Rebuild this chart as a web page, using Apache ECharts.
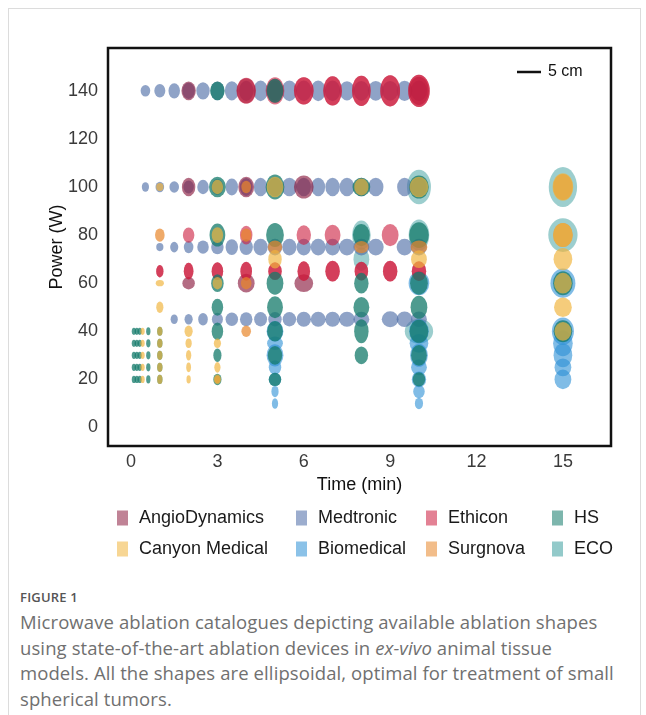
<!DOCTYPE html>
<html>
<head>
<meta charset="utf-8">
<script src="https://cdn.jsdelivr.net/npm/echarts@6/dist/echarts.min.js"></script>
<style>
  html, body { margin: 0; padding: 0; background: #fff; }
  .card { position: absolute; left: 8px; top: 8px; width: 631px; height: 720px; border: 1px solid #dcdcdc; border-bottom: none; }
  #chart { position: absolute; left: 0; top: 0; width: 646px; height: 580px; }
  .caption { position: absolute; left: 20px; top: 588px; font-family: "Open Sans", sans-serif; color: #707070; }
  .fig { font-size: 13px; font-weight: 600; color: #555; letter-spacing: 0.2px; margin-bottom: 3px; }
  .text { font-size: 18.5px; line-height: 25.5px; letter-spacing: 0.1px; white-space: nowrap; margin-top: 3px; }
</style>
</head>
<body>
<div class="card"></div>
<div id="chart"></div>
<div class="caption">
  <div class="fig">FIGURE 1</div>
  <div class="text">Microwave ablation catalogues depicting available ablation shapes<br>using state-of-the-art ablation devices in <i>ex-vivo</i> animal tissue<br>models. All the shapes are ellipsoidal, optimal for treatment of small<br>spherical tumors.</div>
</div>
<script>
// each point: [time (min), power (W), ablation width (cm), ablation length (cm)]
var xTicks = [0, 3, 6, 9, 12, 15]
var yTicks = [0, 20, 40, 60, 80, 100, 120, 140]

var angioDynamics = [
  [2, 140, 3.0, 3.9], [4, 140, 3.9, 5.2], [5, 140, 3.5, 5.0], [10, 140, 4.1, 5.9],
  [2, 100, 2.8, 3.9], [4, 100, 3.3, 4.3], [6, 100, 4.1, 4.8],
  [2, 60, 2.6, 2.6], [4, 60, 3.5, 3.9], [6, 60, 3.9, 3.7]
]

var medtronic = [
  [0.5, 140, 2.0, 2.4], [1, 140, 2.3, 2.8], [1.5, 140, 2.4, 3.2], [2, 140, 2.6, 3.4], [2.5, 140, 2.8, 3.6],
  [3, 140, 2.9, 3.9], [3.5, 140, 2.9, 4.0], [4, 140, 3.0, 4.2], [4.5, 140, 3.0, 4.3], [5, 140, 3.1, 4.3],
  [5.5, 140, 3.2, 4.3], [6, 140, 3.2, 4.3], [6.5, 140, 3.1, 4.3], [7, 140, 3.2, 4.3], [7.5, 140, 3.2, 4.0],
  [8, 140, 3.2, 4.1], [8.5, 140, 3.3, 4.1], [9, 140, 3.3, 4.1], [9.5, 140, 3.3, 4.2], [10, 140, 3.4, 4.3],
  [0.5, 100, 1.5, 2.0], [1, 100, 1.8, 2.2], [1.5, 100, 2.0, 2.4], [2, 100, 2.2, 2.7], [2.5, 100, 2.4, 3.0],
  [3, 100, 2.5, 3.3], [3.5, 100, 2.6, 3.5], [4, 100, 2.7, 3.7], [4.5, 100, 2.8, 3.9], [5, 100, 3.0, 3.9],
  [5.5, 100, 3.2, 3.9], [6, 100, 3.0, 3.9], [6.5, 100, 2.9, 3.9], [7, 100, 3.0, 3.9], [7.5, 100, 3.1, 3.9],
  [8, 100, 3.1, 3.9], [8.5, 100, 3.2, 3.9], [9.5, 100, 3.1, 3.9], [10, 100, 3.2, 3.9],
  [1, 75, 1.5, 1.7], [1.5, 75, 1.7, 2.2], [2, 75, 2.0, 2.6], [2.5, 75, 2.4, 2.8], [3, 75, 2.6, 3.0],
  [3.5, 75, 2.6, 3.3], [4, 75, 2.8, 3.3], [4.5, 75, 3.0, 3.5], [5, 75, 3.0, 3.5], [5.5, 75, 3.0, 3.5],
  [6, 75, 3.0, 3.5], [6.5, 75, 3.1, 3.5], [7, 75, 3.1, 3.5], [7.5, 75, 3.3, 3.5], [8, 75, 3.3, 3.5],
  [8.5, 75, 3.3, 3.5], [9.5, 75, 3.3, 3.5], [10, 75, 3.3, 3.5],
  [1.5, 45, 1.5, 2.0], [2, 45, 1.7, 2.2], [2.5, 45, 2.0, 2.6], [3, 45, 2.3, 2.7], [3.5, 45, 2.6, 2.8],
  [4, 45, 2.6, 2.9], [4.5, 45, 2.7, 3.0], [5, 45, 2.8, 3.0], [5.5, 45, 2.8, 3.0], [6, 45, 3.0, 3.1],
  [6.5, 45, 3.1, 3.1], [7, 45, 3.1, 3.1], [7.5, 45, 3.3, 3.1], [8, 45, 3.3, 3.1], [9, 45, 3.5, 3.3],
  [9.5, 45, 3.3, 3.2], [10, 45, 3.3, 3.2]
]

var ethicon = [
  [4, 140, 4.1, 5.4], [5, 140, 3.9, 5.7],
  [6, 140, 4.1, 5.7], [6, 140, 4.1, 5.7], [7, 140, 3.9, 6.1], [7, 140, 3.9, 6.1],
  [8, 140, 3.9, 6.3], [8, 140, 3.9, 6.3], [9, 140, 4.1, 6.5], [9, 140, 4.1, 6.5],
  [10, 140, 4.5, 6.7], [10, 140, 4.5, 6.7],
  [2, 80, 2.4, 3.2], [4, 80, 2.6, 3.9], [6, 80, 3.0, 4.1], [7, 80, 3.3, 4.3], [9, 80, 3.5, 4.6],
  [1, 65, 1.5, 2.6], [1, 65, 1.5, 2.6], [2, 65, 2.0, 3.5], [2, 65, 2.0, 3.5],
  [3, 65, 2.4, 3.7], [3, 65, 2.4, 3.7], [4, 65, 2.4, 3.9], [4, 65, 2.4, 3.9],
  [5, 65, 2.8, 3.7], [5, 65, 2.8, 3.7], [6, 65, 2.6, 4.1], [6, 65, 2.6, 4.1],
  [7, 65, 3.0, 4.3], [7, 65, 3.0, 4.3], [8, 65, 2.8, 3.9], [8, 65, 2.8, 3.9],
  [9, 65, 3.0, 4.3], [9, 65, 3.0, 4.3], [10, 65, 3.0, 4.1], [10, 65, 3.0, 4.1]
]

var hs = [
  [3, 140, 3.0, 3.9], [5, 140, 3.5, 5.0],
  [3, 100, 3.5, 4.3], [5, 100, 3.9, 5.2], [8, 100, 3.7, 3.9], [10, 100, 4.1, 4.8],
  [3, 80, 3.3, 4.8], [5, 80, 3.7, 5.0], [8, 80, 3.5, 4.6], [10, 80, 4.1, 5.4],
  [3, 60, 2.6, 3.7], [5, 60, 3.5, 4.8], [8, 60, 3.0, 4.3], [10, 60, 3.7, 4.8], [15, 60, 4.1, 5.0],
  [3, 50, 2.4, 3.5], [5, 50, 3.3, 4.6], [8, 50, 3.3, 4.3], [10, 50, 3.5, 4.8],
  [3, 40, 2.4, 3.7], [5, 40, 3.3, 4.3], [8, 40, 3.0, 5.0], [10, 40, 3.9, 4.8], [15, 40, 3.9, 4.6],
  [3, 30, 1.7, 2.8], [5, 30, 3.0, 3.9], [8, 30, 2.8, 3.7], [10, 30, 3.3, 4.3],
  [3, 20, 1.7, 2.4], [5, 20, 2.6, 2.8], [10, 20, 2.6, 3.0],
  [0.1, 40, 0.9, 1.5], [0.2, 40, 0.9, 1.5], [0.3, 40, 0.9, 1.5], [0.6, 40, 0.9, 1.7], [1, 40, 1.1, 1.9],
  [0.1, 35, 0.9, 1.5], [0.2, 35, 0.9, 1.5], [0.3, 35, 0.9, 1.5], [0.6, 35, 0.9, 1.7], [1, 35, 1.1, 1.9],
  [0.1, 30, 0.9, 1.5], [0.2, 30, 0.9, 1.5], [0.3, 30, 0.9, 1.5], [0.6, 30, 0.9, 1.7], [1, 30, 1.1, 1.9],
  [0.1, 25, 0.9, 1.5], [0.2, 25, 0.9, 1.5], [0.3, 25, 0.9, 1.5], [0.6, 25, 0.9, 1.7], [1, 25, 1.1, 1.9],
  [0.1, 20, 0.9, 1.5], [0.2, 20, 0.9, 1.5], [0.3, 20, 0.9, 1.5], [0.6, 20, 0.9, 1.7], [1, 20, 1.1, 1.9]
]

var canyonMedical = [
  [1, 100, 1.5, 1.7], [3, 100, 2.4, 3.0], [5, 100, 3.5, 4.3], [8, 100, 3.0, 3.5], [10, 100, 3.9, 4.3], [15, 100, 4.3, 5.7],
  [3, 80, 2.4, 3.3], [15, 80, 4.1, 5.0],
  [5, 70, 2.8, 3.9], [10, 70, 3.3, 3.7], [15, 70, 3.9, 4.6],
  [1, 60, 1.7, 1.3], [3, 60, 2.0, 2.6], [15, 60, 3.7, 4.3],
  [1, 50, 1.5, 2.4], [15, 50, 3.7, 4.1], [15, 40, 3.5, 3.9],
  [2, 40, 1.7, 2.4], [2, 35, 1.3, 2.0], [2, 30, 1.1, 2.2], [2, 25, 1.0, 2.0], [2, 20, 0.9, 1.7],
  [3, 35, 1.5, 2.0], [3, 25, 1.3, 2.2], [3, 20, 1.5, 2.0],
  [0.4, 40, 0.9, 1.5], [0.4, 35, 0.9, 1.5], [0.4, 30, 0.9, 1.5], [0.4, 25, 0.9, 1.5], [0.4, 20, 0.9, 1.5],
  [1, 40, 1.1, 1.9], [1, 35, 1.1, 1.9], [1, 30, 1.1, 1.9], [1, 25, 1.1, 1.9], [1, 20, 1.1, 1.9]
]

var biomedical = [
  [5, 40, 3.5, 4.3], [5, 35, 3.3, 2.8], [5, 30, 3.5, 4.6], [5, 25, 2.6, 3.0], [5, 20, 2.6, 2.8], [5, 15, 1.5, 2.4], [5, 10, 1.3, 2.2],
  [10, 60, 4.3, 5.0], [10, 40, 4.1, 5.0], [10, 35, 3.9, 3.9], [10, 30, 3.7, 4.8], [10, 25, 3.3, 3.3],
  [10, 20, 3.0, 3.3], [10, 15, 2.4, 2.8], [10, 10, 1.7, 2.4],
  [15, 60, 5.2, 6.1], [15, 40, 4.6, 5.7], [15, 35, 4.1, 5.4], [15, 30, 3.9, 5.0], [15, 25, 3.5, 3.7], [15, 20, 3.5, 4.1]
]

var surgnova = [
  [1, 80, 2.0, 2.8], [4, 80, 2.2, 2.8], [4, 100, 2.0, 2.6], [4, 60, 2.2, 2.6],
  [5, 75, 3.0, 2.8], [8, 75, 3.0, 2.6], [10, 75, 3.5, 2.8],
  [4, 40, 2.0, 2.4], [3, 20, 1.1, 1.5],
  [15, 100, 4.1, 5.4], [15, 80, 4.1, 5.0]
]

var eco = [
  [8, 80, 3.9, 6.1], [8, 70, 3.3, 4.8],
  [10, 100, 5.0, 7.2], [10, 80, 4.3, 6.5], [10, 40, 5.9, 5.2],
  [15, 100, 5.9, 8.3], [15, 80, 6.1, 7.0]
]

var PX_PER_CM = 4.8

var chart = echarts.init(document.getElementById('chart'))

function ellipseSeries (name, data, color, opacity) {
  return {
    name: name,
    type: 'scatter',
    data: data,
    symbol: 'circle',
    symbolSize: function (v) {
      return [v[2] * PX_PER_CM, v[3] * PX_PER_CM]
    },
    itemStyle: { color: color, opacity: opacity },
    emphasis: { disabled: true },
    silent: true
  }
}

var legendText = { fontFamily: 'Liberation Sans, Arial, sans-serif', fontSize: 18, color: '#1a1a1a', padding: [0, 0, 0, 6] }
function legendCol (left, names) {
  return {
    left: left,
    top: 504,
    orient: 'vertical',
    icon: 'rect',
    itemWidth: 11,
    itemHeight: 15,
    itemGap: 13,
    itemStyle: { opacity: 0.55 },
    selectedMode: false,
    textStyle: legendText,
    data: names
  }
}

var option = {
  animation: false,
  textStyle: { fontFamily: 'Liberation Sans, Arial, sans-serif' },
  grid: {
    left: 108,
    top: 48,
    width: 503,
    height: 398,
    show: true,
    backgroundColor: '#fff',
    borderColor: '#111',
    borderWidth: 2.5
  },
  legend: [
    legendCol(112, ['AngioDynamics', 'Canyon Medical']),
    legendCol(291, ['Medtronic', 'Biomedical']),
    legendCol(421, ['Ethicon', 'Surgnova']),
    legendCol(547, ['HS', 'ECO'])
  ],
  xAxis: {
    type: 'value',
    min: -0.8,
    max: 16.67,
    name: 'Time (min)',
    nameLocation: 'middle',
    nameGap: 29,
    nameTextStyle: { fontSize: 18, color: '#111' },
    axisLine: { show: false },
    axisTick: { show: false },
    splitLine: { show: false },
    axisLabel: { customValues: xTicks, fontSize: 18, color: '#3a3a3a', margin: 7 }
  },
  yAxis: {
    type: 'value',
    min: -7.7,
    max: 157.8,
    name: 'Power (W)',
    nameLocation: 'middle',
    nameGap: 42,
    nameMoveOverlap: false,
    nameTextStyle: { fontSize: 18, color: '#111' },
    axisLine: { show: false },
    axisTick: { show: false },
    splitLine: { show: false },
    axisLabel: { customValues: yTicks, fontSize: 18, color: '#3a3a3a', margin: 10 }
  },
  graphic: [
    { type: 'line', shape: { x1: 517, y1: 72, x2: 517 + 5 * PX_PER_CM, y2: 72 }, style: { stroke: '#111', lineWidth: 2.5 } },
    { type: 'text', x: 548, y: 72, style: { text: '5 cm', fontSize: 16, fill: '#111', verticalAlign: 'middle', fontFamily: 'Liberation Sans, Arial, sans-serif' } }
  ],
  series: [
    ellipseSeries('ECO', eco, '#3a9e9e', 0.5),
    ellipseSeries('Medtronic', medtronic, '#4a6aa5', 0.62),
    ellipseSeries('Biomedical', biomedical, '#2b8fd6', 0.6),
    ellipseSeries('AngioDynamics', angioDynamics, '#8c1d40', 0.65),
    ellipseSeries('Ethicon', ethicon, '#cc1a3c', 0.6),
    ellipseSeries('HS', hs, '#137a6a', 0.75),
    ellipseSeries('Surgnova', surgnova, '#e8862a', 0.7),
    ellipseSeries('Canyon Medical', canyonMedical, '#f0b43c', 0.68)
  ]
}

chart.setOption(option)
</script>
</body>
</html>
